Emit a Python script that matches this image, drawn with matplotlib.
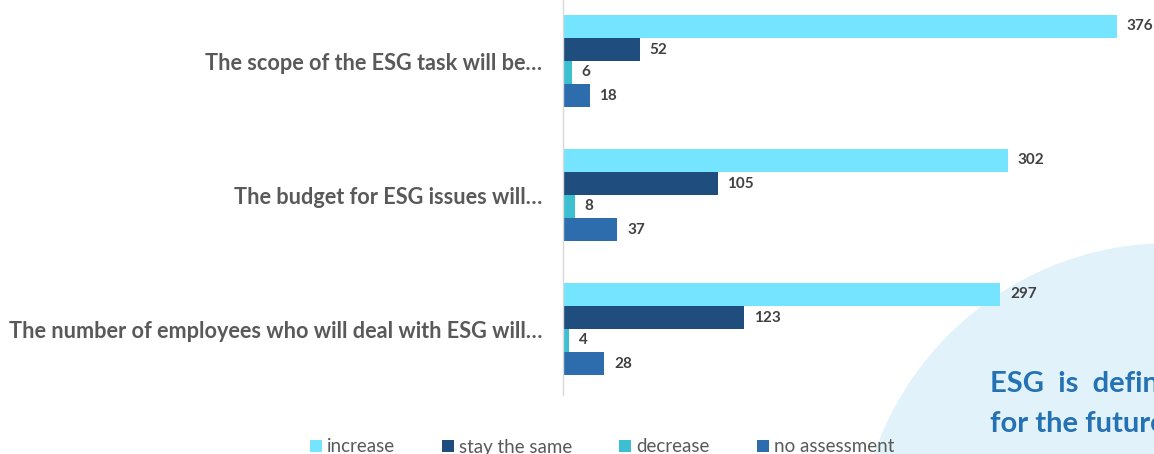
import matplotlib
matplotlib.use("Agg")
import matplotlib.pyplot as plt
from matplotlib.patches import Circle, Patch
import numpy as np

plt.rcParams['font.family'] = ['Lato', 'DejaVu Sans']

categories = [
    "The scope of the ESG task will be…",
    "The budget for ESG issues will…",
    "The number of employees who will deal with ESG will…",
]
series_names = ["increase", "stay the same", "decrease", "no assessment"]
increase = [376, 302, 297]
stay_the_same = [52, 105, 123]
decrease = [6, 8, 4]
no_assessment = [18, 37, 28]
series_values = [increase, stay_the_same, decrease, no_assessment]
colors = ["#74E4FF", "#1F4E7E", "#3BBFD1", "#2E6DAD"]

W, H = 1154, 454
fig = plt.figure(figsize=(W / 100, H / 100), dpi=100)

# background layer in pixel units (y downward) for the decorative circle and slogan
bg = fig.add_axes([0, 0, 1, 1], zorder=0)
bg.set_xlim(0, W)
bg.set_ylim(H, 0)
bg.axis("off")
bg.add_patch(Circle((1170, 556), 313, facecolor="#E2F2FA", edgecolor="none"))
bg.text(990, 392, "ESG  is  defining", color="#2472B4", fontsize=21,
        fontweight="bold", ha="left", va="baseline", clip_on=False)
bg.text(990, 432, "for the future", color="#2472B4", fontsize=21,
        fontweight="bold", ha="left", va="baseline", clip_on=False)

# main bar chart
left, right = 563, 1152
top, bottom = 0, 395
ax = fig.add_axes([left / W, 1 - bottom / H, (right - left) / W, (bottom - top) / H], zorder=1)
ax.patch.set_alpha(0)

band = 134.0  # pixels per category
bar_h = 23.0 / band
centers = np.arange(len(categories))
offsets = (np.arange(len(series_names)) - 1.5) * bar_h

for k, (name, vals, col) in enumerate(zip(series_names, series_values, colors)):
    ys = centers + offsets[k]
    ax.barh(ys, vals, height=bar_h * 0.97, color=col, label=name, zorder=2)
    for y, v in zip(ys, vals):
        ax.annotate(str(v), (v, y), xytext=(7, 0), textcoords="offset points",
                    ha="left", va="center", fontsize=11, fontweight="bold",
                    color="#404040", annotation_clip=False)

ax.set_xlim(0, 400)
ax.set_ylim((bottom - 61) / band, -61 / band)
ax.set_yticks(centers)
ax.set_yticklabels(categories, fontsize=15.6, fontweight="bold", color="#595959")
ax.tick_params(axis="y", length=0, pad=15)
ax.set_xticks([])
for s in ["top", "right", "bottom"]:
    ax.spines[s].set_visible(False)
ax.spines["left"].set_color("#D9D9D9")
ax.spines["left"].set_linewidth(1.0)

handles = [Patch(facecolor=c, edgecolor="none") for c in colors]
fig.legend(handles, series_names, loc="center", ncol=4,
           bbox_to_anchor=(602 / W, 1 - 447 / H), frameon=False,
           fontsize=13.5, labelcolor="#595959", handlelength=0.64, handleheight=0.64,
           handletextpad=0.27, columnspacing=2.5, borderaxespad=0, borderpad=0)

fig.savefig("out.png", dpi=100)
